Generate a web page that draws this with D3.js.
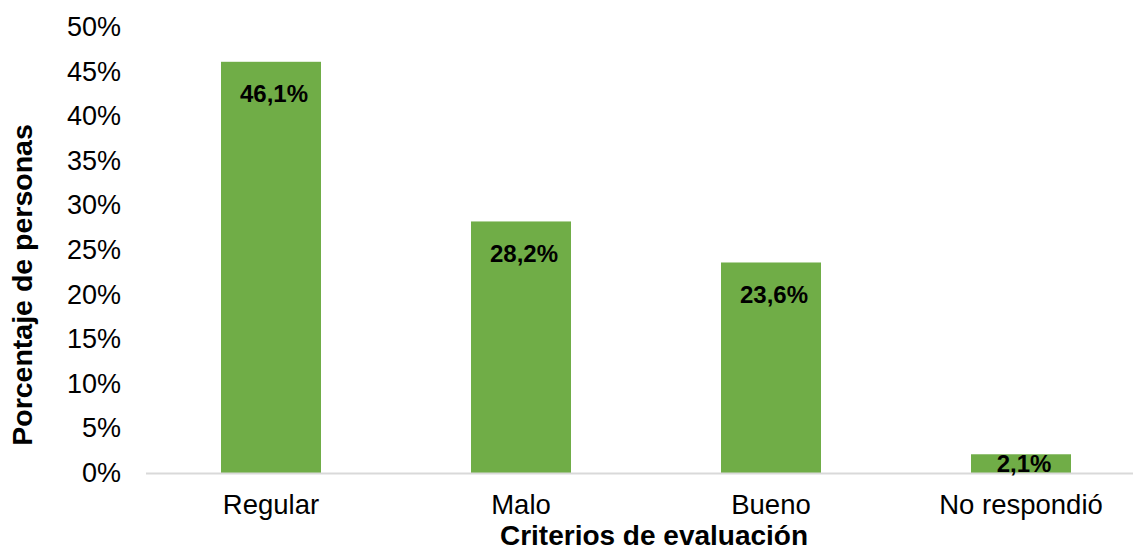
<!DOCTYPE html>
<html>
<head>
<meta charset="utf-8">
<script src="https://cdn.jsdelivr.net/npm/d3@7"></script>
<style>
  html, body { margin: 0; padding: 0; background: #fff; }
  svg { display: block; font-family: Arial, "Liberation Sans", sans-serif; }
</style>
</head>
<body>
<svg id="chart" width="1133" height="550"></svg>
<script>
const categories = ["Regular", "Malo", "Bueno", "No respondió"];
const values = [46.1, 28.2, 23.6, 2.1];
const valueLabels = ["46,1%", "28,2%", "23,6%", "2,1%"];
const yTicks = [0, 5, 10, 15, 20, 25, 30, 35, 40, 45, 50];
const xTitle = "Criterios de evaluación";
const yTitle = "Porcentaje de personas";

const svg = d3.select("#chart");
const plotLeft = 146, plotRight = 1146, plotTop = 27, plotBottom = 473;

const x = d3.scaleBand().domain(categories).range([plotLeft, plotRight])
  .paddingInner(0.6).paddingOuter(0.3);
const y = d3.scaleLinear().domain([0, 50]).range([plotBottom, plotTop]);

// y tick labels
svg.append("g").selectAll("text").data(yTicks).join("text")
  .attr("x", 121).attr("y", d => y(d))
  .attr("text-anchor", "end").attr("dominant-baseline", "central")
  .attr("font-size", 27).attr("fill", "#000")
  .text(d => d + "%");

// bars
svg.append("g").selectAll("rect").data(values).join("rect")
  .attr("x", (d, i) => x(categories[i]))
  .attr("width", x.bandwidth())
  .attr("y", d => y(d))
  .attr("height", d => y(0) - y(d))
  .attr("fill", "#70AD47");

// x axis line
svg.append("line")
  .attr("x1", plotLeft).attr("x2", 1133)
  .attr("y1", y(0) + 0.5).attr("y2", y(0) + 0.5)
  .attr("stroke", "#D9D9D9").attr("stroke-width", 2);

// data labels
svg.append("g").selectAll("text").data(values).join("text")
  .attr("x", (d, i) => x(categories[i]) + x.bandwidth() / 2 + 3)
  .attr("y", d => y(d) + Math.min(32, (y(0) - y(d)) / 2))
  .attr("text-anchor", "middle").attr("dominant-baseline", "central")
  .attr("font-size", 24).attr("font-weight", "bold").attr("fill", "#000")
  .text((d, i) => valueLabels[i]);

// category labels
svg.append("g").selectAll("text").data(categories).join("text")
  .attr("x", d => x(d) + x.bandwidth() / 2)
  .attr("y", 514)
  .attr("text-anchor", "middle")
  .attr("font-size", 27.5).attr("fill", "#000")
  .text(d => d);

// x title
svg.append("text")
  .attr("x", 654).attr("y", 545)
  .attr("text-anchor", "middle")
  .attr("font-size", 28).attr("font-weight", "bold").attr("fill", "#000")
  .text(xTitle);

// y title
svg.append("text")
  .attr("transform", "translate(32,285) rotate(-90)")
  .attr("text-anchor", "middle")
  .attr("font-size", 28.5).attr("font-weight", "bold").attr("fill", "#000")
  .text(yTitle);
</script>
</body>
</html>
